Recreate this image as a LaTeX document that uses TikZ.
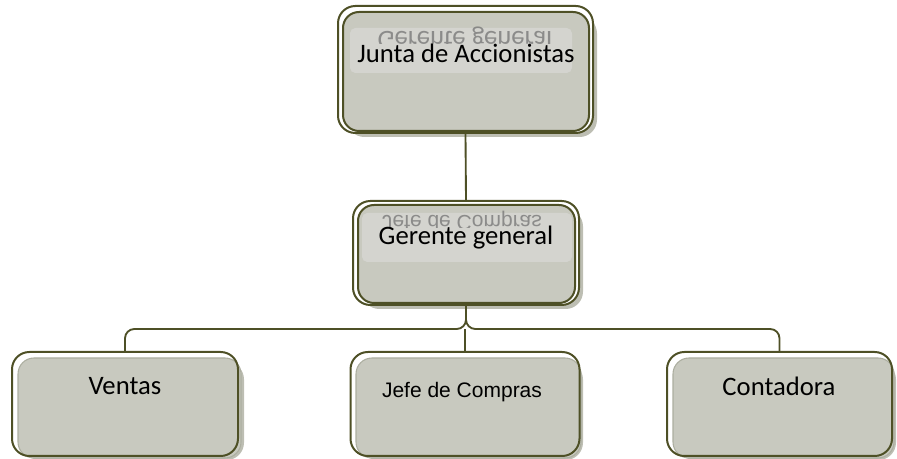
\documentclass[tikz,border=0pt]{standalone}
\usepackage{graphicx}
\usepackage{fontspec}
\setmainfont{Carlito}
\newfontfamily\arialfont{Liberation Sans}
\definecolor{oliva}{RGB}{78,80,38}
\definecolor{gris}{RGB}{200,201,191}
\definecolor{sombra}{RGB}{172,174,160}
\definecolor{banda}{RGB}{212,212,207}

\begin{document}
\begin{tikzpicture}[x=0.75pt,y=-0.75pt,
    marco/.style={draw=oliva,line width=1.5pt,rounded corners=13pt,inner sep=0pt},
    relleno/.style={draw=oliva,line width=1.5pt,fill=gris,rounded corners=12pt},
    suave/.style={draw=sombra,line width=0.8pt,fill=gris,rounded corners=12pt},
    sombra/.style={fill=sombra,opacity=0.8,rounded corners=13pt},
    linea/.style={draw=oliva,line width=1.4pt,rounded corners=7pt},
    texto/.style={font=\fontsize{20}{24}\selectfont,inner sep=0pt,anchor=base},
    reflejo/.style={text=black!55,opacity=0.75,inner sep=0pt,anchor=base}]
                \useasboundingbox (0,0) rectangle (897,459);
                % junta
                \fill[sombra] (347,16) rectangle (597,137);
                \node[marco,fill=white,minimum width=191.25pt,minimum height=95.25pt] (junta) at (465.5,69.5) {};
                \draw[relleno] (343,12) rectangle (589,131);
                \fill[banda,rounded corners=4pt] (350,28) rectangle (572,73);
                \begin{scope}
                \clip (340,20) rectangle (590,44);
                \node[reflejo,font=\fontsize{20}{24}\selectfont] (ecojunta) at (465,32) {\scalebox{1}[-1]{Gerente general}};
                \end{scope}
                \node[texto] (tjunta) at (466,63) {Junta de Accionistas};
                % gerente
                \fill[sombra] (362,209) rectangle (583,309);
                \node[marco,fill=white,minimum width=169.5pt,minimum height=78pt] (gerente) at (466,253) {};
                \draw[relleno] (358,205) rectangle (575,303);
                \fill[banda,rounded corners=4pt] (362,213) rectangle (572,262);
                \begin{scope}
                \clip (360,210) rectangle (575,228);
                \node[reflejo,font=\arialfont\fontsize{15.75}{19}\selectfont] (ecogerente) at (462,216) {\scalebox{1}[-1]{Jefe de Compras}};
                \end{scope}
                \node[texto] (tgerente) at (466,245) {Gerente general};
                % departamentos
                \fill[sombra] (22,362) rectangle (244,460);
                \draw[suave] (18,358) rectangle (241,458);
                \node[marco,minimum width=169.5pt,minimum height=78pt] (ventas) at (125,404) {};
                \node[texto] (tventas) at (125,395) {Ventas};
                \fill[sombra] (360,362) rectangle (583,460);
                \draw[suave] (356,358) rectangle (581,458);
                \node[marco,minimum width=171.75pt,minimum height=78pt] (jefe) at (465,404) {};
                \node[texto,font=\arialfont\fontsize{15.75}{19}\selectfont] (tjefe) at (462,398) {Jefe de Compras};
                \fill[sombra] (677,362) rectangle (896,460);
                \draw[suave] (673,358) rectangle (894,458);
                \node[marco,minimum width=168.75pt,minimum height=78pt] (contadora) at (779.5,404) {};
                \node[texto] (tcontadora) at (779,396) {Contadora};
                % conectores
                \coordinate (bus) at (466,329);
                \draw[linea] (junta.south) -- (gerente.north);
                \draw[linea] (gerente.south) -- (bus) -| (ventas.north);
                \draw[linea] (gerente.south) -- (bus) -| (contadora.north);
                \draw[linea] (jefe.north) -- (jefe.north |- bus);
            \end{tikzpicture}
\end{document}
